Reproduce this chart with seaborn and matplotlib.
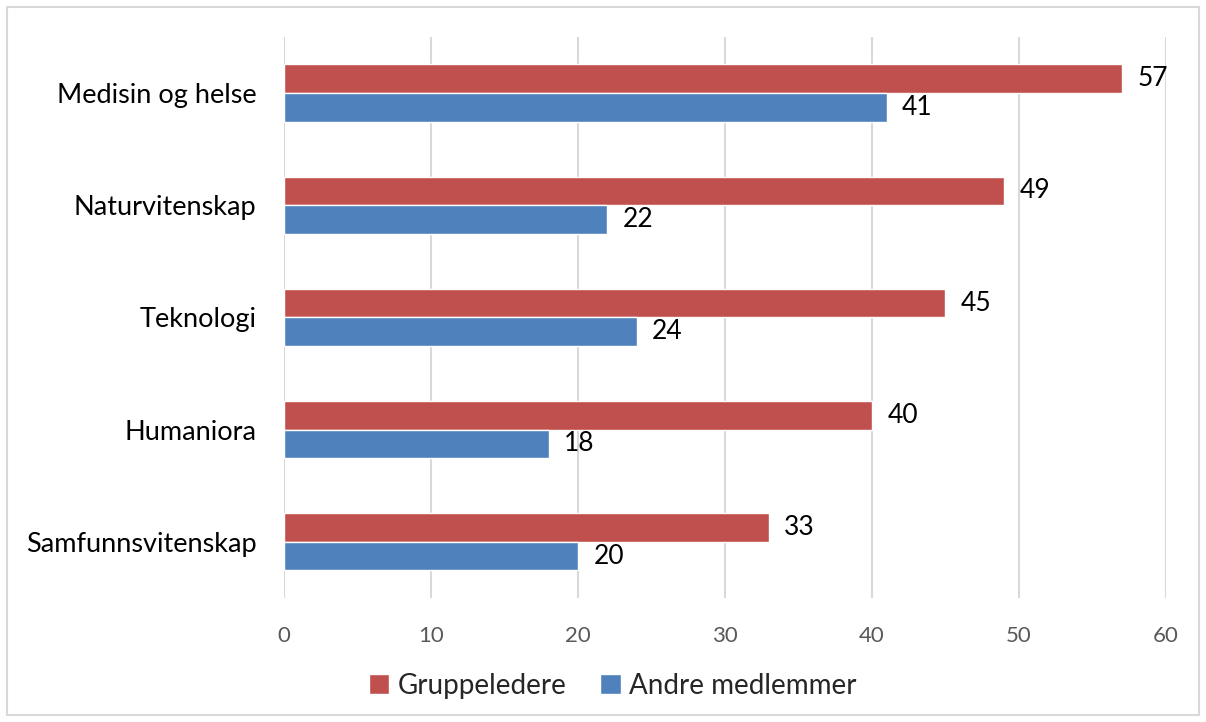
import pandas as pd
import matplotlib.pyplot as plt
import seaborn as sns
from matplotlib.patches import Rectangle

# data
fagomrader = ["Medisin og helse", "Naturvitenskap", "Teknologi", "Humaniora", "Samfunnsvitenskap"]
gruppeledere = [57, 49, 45, 40, 33]
andre_medlemmer = [41, 22, 24, 18, 20]
serier = ["Gruppeledere", "Andre medlemmer"]
farger = {"Gruppeledere": "#C0504D", "Andre medlemmer": "#4F81BD"}

df = pd.DataFrame({
    "Fagområde": fagomrader * 2,
    "Andel": gruppeledere + andre_medlemmer,
    "Gruppe": [serier[0]] * len(fagomrader) + [serier[1]] * len(fagomrader),
})

sns.set_theme(style="white")
plt.rcParams['font.family'] = ['Lato', 'DejaVu Sans']

fig = plt.figure(figsize=(12.06, 7.22), dpi=100)
ax = fig.add_axes([0.2355, 0.172, 0.9668 - 0.2355, 0.9488 - 0.172])

sns.barplot(data=df, x="Andel", y="Fagområde", hue="Gruppe", order=fagomrader,
            hue_order=serier, palette=farger, width=0.51, orient="h",
            errorbar=None, ax=ax, saturation=1, zorder=3)

# data labels
for cont in ax.containers:
    ax.bar_label(cont, padding=11, fontsize=19, color="black")

ax.set_xlim(0, 60)
ax.set_ylim(4.5, -0.5)
ax.set_xticks(range(0, 61, 10))
ax.grid(axis="x", color="#D9D9D9", linewidth=1.5, zorder=0)
ax.grid(axis="y", visible=False)
for s in ax.spines.values():
    s.set_visible(False)
ax.tick_params(axis="x", labelsize=16, labelcolor="#595959", length=0, pad=20)
ax.tick_params(axis="y", labelsize=19.5, labelcolor="black", length=0, pad=20)
ax.set_xlabel("")
ax.set_ylabel("")

handles, labels = ax.get_legend_handles_labels()
ax.legend(handles, labels, loc="center", frameon=False,
          ncol=2, fontsize=20, handlelength=0.75, handleheight=0.75, handletextpad=0.3,
          columnspacing=1.2)
ax.get_legend().set_bbox_to_anchor((0.508, 0.05), transform=fig.transFigure)

# light frame around the whole chart
fig.patches.append(Rectangle((7 / 1206, 7 / 722), 1192 / 1206, 708 / 722,
                             transform=fig.transFigure, fill=False,
                             edgecolor="#D9D9D9", linewidth=1.5))

fig.savefig("out.png", dpi=100)
